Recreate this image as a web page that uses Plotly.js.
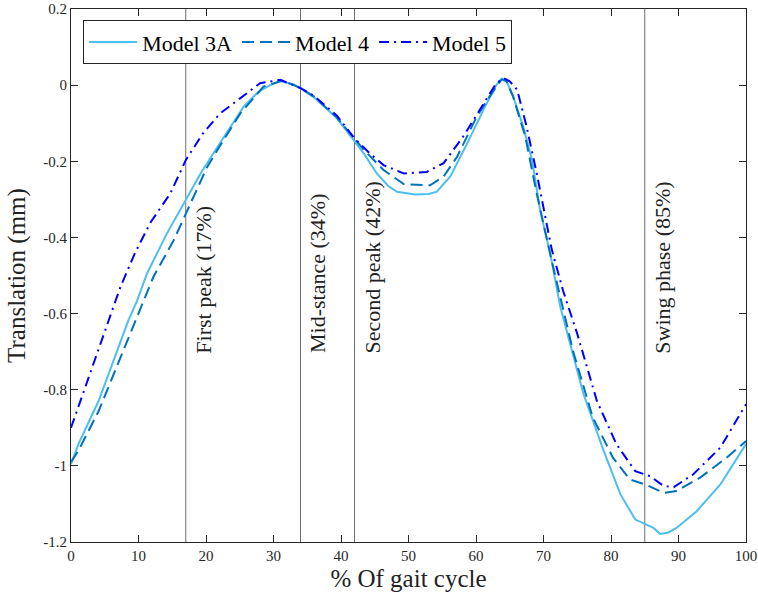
<!DOCTYPE html>
<html>
<head>
<meta charset="utf-8">
<script src="https://cdn.plot.ly/plotly-3.0.1.min.js"></script>
<style>html,body{margin:0;padding:0;background:#fff;}#chart{width:758px;height:600px;}</style>
</head>
<body>
<div id="chart"></div>
<script>
// Model 3A (solid)
const x3A = [0,1.1,4.1,7.05,8.5,9.8,11.25,14.2,17,19.2,21.1,23.6,25.6,27.8,29.5,31,33,34,36,39.4,41.4,43.4,45.3,47,48.3,51,53,54.2,56.2,58.7,61.1,63,63.8,64.5,65.5,67,68.3,69.5,71,72.5,73.5,75.9,78.9,81.4,83.6,85.1,86.3,87.3,88.5,89.7,92.7,96.2,100];
const y3A = [-0.996,-0.943,-0.829,-0.689,-0.618,-0.566,-0.495,-0.39,-0.302,-0.232,-0.179,-0.109,-0.056,-0.017,0.0,0.01,0.002,-0.008,-0.032,-0.087,-0.135,-0.18,-0.232,-0.265,-0.28,-0.287,-0.286,-0.28,-0.24,-0.153,-0.065,0.0,0.017,0.012,-0.03,-0.109,-0.197,-0.329,-0.443,-0.583,-0.65,-0.81,-0.96,-1.075,-1.141,-1.154,-1.163,-1.179,-1.175,-1.163,-1.119,-1.049,-0.943];
// Model 4 (dashed)
const x4 = [0,1.1,4.1,7.55,9.5,12.2,15.2,17,20.2,22.6,25.1,28.5,30,31.3,33,34,36,39.4,41.5,43.4,46.3,49.3,53.2,55.2,57.2,60.1,62,63.8,64.5,65.5,67.3,69,71.2,74.4,77.3,80.3,82.8,85.1,87.8,89.7,93.2,97.1,100];
const y4 = [-0.99,-0.96,-0.856,-0.706,-0.618,-0.504,-0.408,-0.337,-0.214,-0.144,-0.074,-0.004,0.004,0.012,0.0,-0.008,-0.03,-0.085,-0.13,-0.17,-0.223,-0.26,-0.263,-0.24,-0.188,-0.083,-0.03,0.015,0.01,-0.03,-0.135,-0.285,-0.46,-0.70,-0.873,-0.979,-1.036,-1.049,-1.071,-1.066,-1.031,-0.979,-0.935];
// Model 5 (dash-dot)
const x5 = [0,1.5,3.1,3.9,5.5,6.6,7.3,9.5,11.8,14.7,17,19.5,22.1,25.1,28,31,33,34,36,39.4,42,44.3,46.3,49.3,52.7,55.2,58.1,61.1,63,64.1,65,66.1,67.5,69,71.2,72.9,75,77.9,80.8,83.6,85.8,87.8,89.3,92.2,96.2,100];
const y5 = [-0.90,-0.824,-0.743,-0.705,-0.625,-0.565,-0.531,-0.44,-0.36,-0.285,-0.197,-0.128,-0.074,-0.034,0.005,0.014,0.0,-0.008,-0.028,-0.08,-0.14,-0.18,-0.21,-0.232,-0.228,-0.205,-0.135,-0.047,0.005,0.018,0.01,-0.012,-0.109,-0.232,-0.43,-0.54,-0.653,-0.829,-0.943,-1.014,-1.027,-1.053,-1.056,-1.022,-0.952,-0.838];

const seriesNames = ["Model 3A","Model 4","Model 5"];
const eventX = [17,34,42,85];
const eventLabels = ["First peak (17%)","Mid-stance (34%)","Second peak (42%)","Swing phase (85%)"];
const xTicks = [0,10,20,30,40,50,60,70,80,90,100];
const yTicks = [0.2,0,-0.2,-0.4,-0.6,-0.8,-1,-1.2];
const yTickText = ["0.2","0","-0.2","-0.4","-0.6","-0.8","-1","-1.2"];

const serif = "Liberation Serif";
const axisCol = "#262626";

const traces = [
  {x:x3A,y:y3A,name:seriesNames[0],mode:"lines",line:{color:"#4DBEEE",width:2}},
  {x:x4,y:y4,name:seriesNames[1],mode:"lines",line:{color:"#0072BD",width:2,dash:"12px,6px"}},
  {x:x5,y:y5,name:seriesNames[2],mode:"lines",line:{color:"#0000FF",width:2,dash:"10px,5px,2px,5px"}}
];

const shapes = eventX.map(v => ({type:"line",xref:"x",yref:"paper",x0:v,x1:v,y0:0,y1:1,line:{color:"#6e6e6e",width:1},layer:"below"}));
const annotations = eventX.map((v,i) => ({
  x:v,y:-0.71,xref:"x",yref:"y",text:eventLabels[i],showarrow:false,textangle:-90,
  xanchor:"left",yanchor:"bottom",xshift:3,font:{family:serif,size:22,color:"#222"}
}));

const layout = {
  width:758,height:600,
  margin:{l:70.7,r:12,t:9,b:58.3},
  paper_bgcolor:"#fff",plot_bgcolor:"#fff",
  font:{family:serif,color:"#222"},
  showlegend:true,
  legend:{orientation:"h",x:0.018,y:0.979,xanchor:"left",yanchor:"top",bgcolor:"#fff",bordercolor:"#262626",borderwidth:1,font:{family:serif,size:22,color:"#000"},itemwidth:48,tracegroupgap:0},
  xaxis:{range:[0,100],tickvals:xTicks,ticks:"inside",ticklen:7,tickcolor:axisCol,mirror:"ticks",showline:true,linecolor:axisCol,linewidth:1,showgrid:false,zeroline:false,
    tickfont:{family:serif,size:15,color:axisCol},title:{text:"% Of gait cycle",font:{family:serif,size:25,color:"#222"},standoff:6}},
  yaxis:{range:[-1.2,0.2],tickvals:yTicks,ticktext:yTickText,ticks:"inside",ticklen:7,tickcolor:axisCol,mirror:"ticks",showline:true,linecolor:axisCol,linewidth:1,showgrid:false,zeroline:false,
    tickfont:{family:serif,size:15,color:axisCol},title:{text:"Translation (mm)",font:{family:serif,size:25,color:"#222"},standoff:10}},
  shapes:shapes,annotations:annotations
};
Plotly.newPlot("chart",traces,layout,{displayModeBar:false,staticPlot:true});
</script>
</body>
</html>
